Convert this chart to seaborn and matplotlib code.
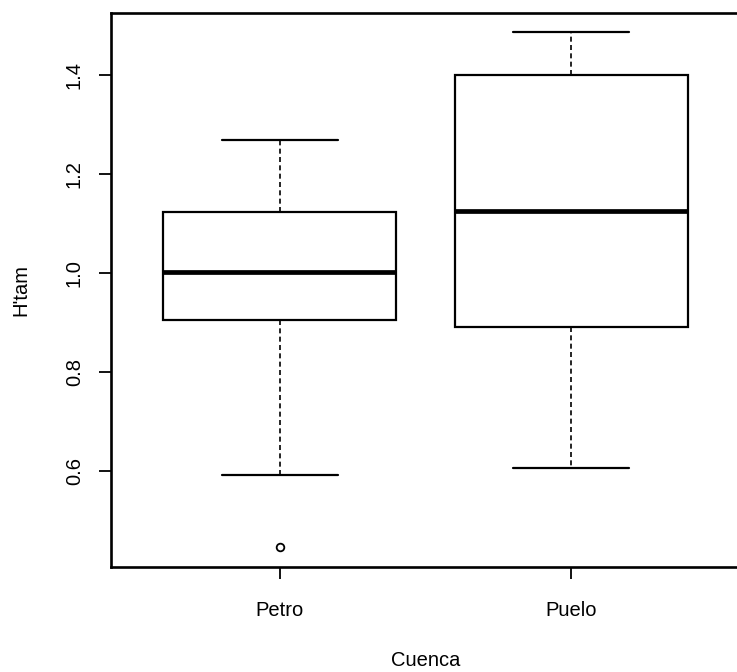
import numpy as np
import pandas as pd
import matplotlib
matplotlib.use("Agg")
import matplotlib.pyplot as plt
import seaborn as sns

# values (five-number summaries per basin)
cuencas = ["Petro", "Puelo"]
whisker_lo = [0.592, 0.606]
q1 = [0.906, 0.891]
medians = [1.003, 1.125]
q3 = [1.124, 1.400]
whisker_hi = [1.270, 1.487]
outliers = [[0.447], []]
y_ticks = [0.6, 0.8, 1.0, 1.2, 1.4]

# build a sample per basin that reproduces those summaries
rows = []
for i, name in enumerate(cuencas):
    base = [whisker_lo[i], q1[i], q1[i], medians[i], q3[i], q3[i], whisker_hi[i]]
    for v in base * 2 + outliers[i]:
        rows.append({"Cuenca": name, "H'tam": v})
df = pd.DataFrame(rows)

sns.set_style("ticks")
plt.rcParams["font.family"] = ["Liberation Sans", "DejaVu Sans"]
plt.rcParams["axes.labelcolor"] = "black"

W, H = 737, 672
fig = plt.figure(figsize=(W / 100, H / 100), dpi=100)
left, right, top, bottom = 111, 740, 13, 567
ax = fig.add_axes([left / W, (H - bottom) / H, (right - left) / W, (bottom - top) / H])

sns.boxplot(
    data=df, x="Cuenca", y="H'tam", order=cuencas, ax=ax,
    width=0.8, color="white", linecolor="black", linewidth=1.6, whis=1.5,
    capwidths=0.4,
    medianprops={"linewidth": 3.4, "color": "black"},
    whiskerprops={"linestyle": (0, (3, 2)), "linewidth": 1.2},
    capprops={"linewidth": 1.6},
    flierprops={"marker": "o", "markerfacecolor": "white",
                "markeredgecolor": "black", "markersize": 5.5,
                "markeredgewidth": 1.3},
)

ax.set_xlim(-0.58, 1.58)
ax.set_ylim(0.406, 1.526)
ax.set_yticks(y_ticks)
ax.set_yticklabels([f"{t:.1f}" for t in y_ticks], rotation=90, va="center")
ax.tick_params(axis="both", direction="out", length=8.5, width=1.3,
               colors="black", labelsize=14.5)
ax.tick_params(axis="x", pad=16)
ax.tick_params(axis="y", pad=11)
for s in ax.spines.values():
    s.set_visible(True)
    s.set_color("black")
    s.set_linewidth(1.9)

ax.set_xlabel("Cuenca", fontsize=14.5, labelpad=22, color="black")
ax.set_ylabel("H'tam", fontsize=14.5, labelpad=25, color="black")
ax.grid(False)

fig.savefig("out.png", dpi=100)
